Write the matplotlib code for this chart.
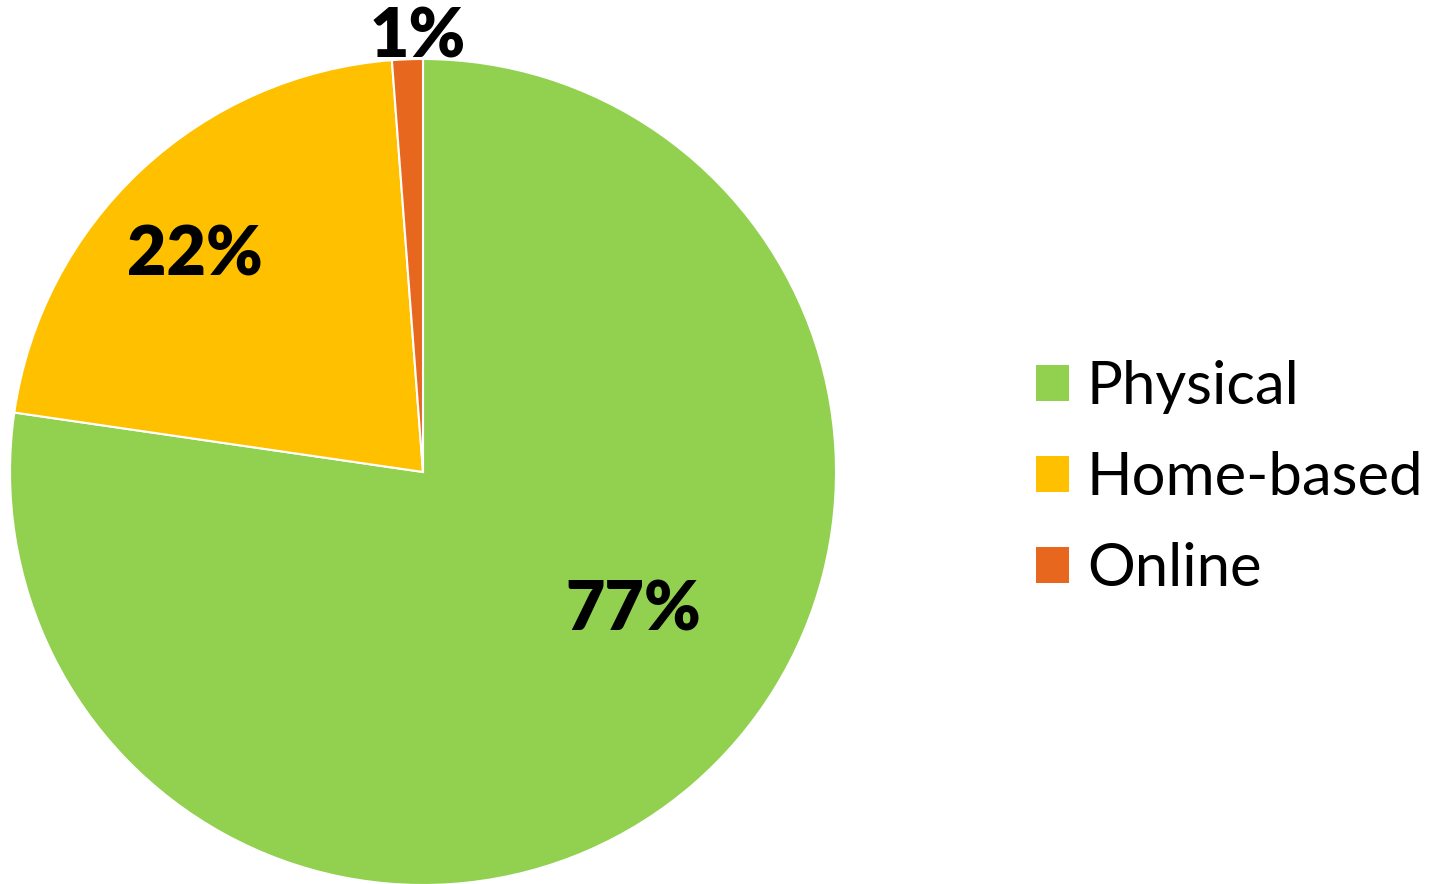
import numpy as np
import matplotlib.pyplot as plt
from matplotlib.patches import Patch

###Data
categories = ['Physical', 'Home-based', 'Online']
shares = [77.3, 21.5, 1.2]
pct_labels = ['77%', '22%', '1%']
colors = ['#92D050', '#FFC000', '#E8671F']

#label placement (radius factor, angle shift in deg) per slice
label_r = [0.61, 0.76, 1.05]
label_shift = [15.7, 3.5, -1.5]

###Plot
fig = plt.figure(figsize=(14.43, 8.84), dpi=100)
ax = fig.add_axes([10/1443, -1/884, 826/1443, 826/884])

wedges, _ = ax.pie(shares, colors=colors, startangle=90, counterclock=False,
                   radius=1, wedgeprops=dict(edgecolor='white', linewidth=1.5))
ax.set_xlim(-1, 1)
ax.set_ylim(-1, 1)
ax.set_aspect('equal')
ax.axis('off')

#percent labels from the wedge angles
for w, lab, r, sh in zip(wedges, pct_labels, label_r, label_shift):
    mid = np.deg2rad((w.theta1 + w.theta2) / 2 + sh)
    ax.text(r*np.cos(mid), r*np.sin(mid), lab, ha='center', va='center',
            fontsize=49, fontweight='heavy', family=['Lato', 'DejaVu Sans'],
            clip_on=False)

handles = [Patch(facecolor=c) for c in colors]
fig.legend(handles, categories, loc='center left', bbox_to_anchor=(1036/1443, 1 - 478/884),
           frameon=False, prop={'family': ['Lato', 'DejaVu Sans'], 'size': 43},
           handlelength=0.55, handleheight=0.55, handletextpad=0.3, labelspacing=0.62,
           borderpad=0, borderaxespad=0)

plt.savefig('out.png', dpi=100)
